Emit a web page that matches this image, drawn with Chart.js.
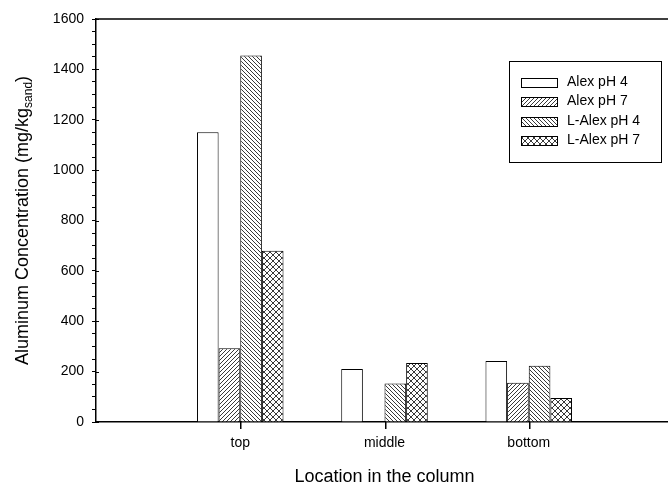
<!DOCTYPE html>
<html>
<head>
<meta charset="utf-8">
<script src="https://cdn.jsdelivr.net/npm/chart.js@4.4.0/dist/chart.umd.min.js"></script>
<style>
  body { margin: 0; overflow: hidden; background: #fff; }
  #wrap { width: 680px; height: 486px; }
</style>
</head>
<body>
<div id="wrap"><canvas id="bar-chart"></canvas></div>
<script>
// data
const locations = ["top", "middle", "bottom"]
const seriesNames = ["Alex pH 4", "Alex pH 7", "L-Alex pH 4", "L-Alex pH 7"]
const alexPH4 = [1150, 210, 242]
const alexPH7 = [293, null, 156]
const lAlexPH4 = [1455, 153, 223]
const lAlexPH7 = [680, 234, 95]
const yMin = 0
const yMax = 1600
const yMajorStep = 200
const yMinorStep = 50

const FONT = "'Liberation Sans', Arial, sans-serif"

// hatch fills
function makePattern(kind) {
  const s = kind === "cross" ? 6 : 4
  const c = document.createElement("canvas")
  c.width = s
  c.height = s
  const p = c.getContext("2d")
  p.fillStyle = "#fff"
  p.fillRect(0, 0, s, s)
  p.strokeStyle = "#222"
  p.lineWidth = 0.9
  p.beginPath()
  for (let k = -s; k <= s; k += s) {
    if (kind === "fwd" || kind === "cross") {
      p.moveTo(k, s)
      p.lineTo(k + s, 0)
    }
    if (kind === "back" || kind === "cross") {
      p.moveTo(k, 0)
      p.lineTo(k + s, s)
    }
  }
  p.stroke()
  return p.createPattern(c, "repeat")
}

const fills = ["#fff", makePattern("fwd"), makePattern("back"), makePattern("cross")]
const seriesData = [alexPH4, alexPH7, lAlexPH4, lAlexPH7]

// empty slot on each side, like the original axis
const labels = ["", ...locations, ""]
const pad = (arr) => [null, ...arr, null]

// frame, inner major ticks, category ticks, y title with subscript, legend
const extras = {
  id: "extras",
  afterDraw(chart) {
    const ctx = chart.ctx
    const a = chart.chartArea
    const ys = chart.scales.y
    ctx.save()
    ctx.strokeStyle = "#000"
    ctx.lineWidth = 1.5
    ctx.beginPath()
    ctx.moveTo(a.left, a.top)
    ctx.lineTo(a.right, a.top)
    ctx.lineTo(a.right, a.bottom)
    ctx.stroke()

    ctx.fillStyle = "#000"
    for (let v = yMin; v <= yMax; v += yMajorStep) {
      const py = Math.round(ys.getPixelForValue(v))
      ctx.fillRect(a.left, py, 3, 1)
    }
    // category ticks at the centre of each bar group
    const first = chart.getDatasetMeta(0).data
    const last = chart.getDatasetMeta(chart.data.datasets.length - 1).data
    const axisY = Math.round(ys.getPixelForValue(yMin))
    locations.forEach((name, i) => {
      const px = Math.round((first[i + 1].x + last[i + 1].x) / 2)
      ctx.fillRect(px, axisY, 1.5, 7)
    })

    // y axis title
    ctx.textBaseline = "alphabetic"
    const main = "Aluminum Concentration (mg/kg"
    const sub = "sand"
    const end = ")"
    ctx.font = "18px " + FONT
    const w1 = ctx.measureText(main).width
    const w3 = ctx.measureText(end).width
    ctx.font = "12px " + FONT
    const w2 = ctx.measureText(sub).width
    const total = w1 + w2 + w3
    ctx.translate(28, (a.top + a.bottom) / 2)
    ctx.rotate(-Math.PI / 2)
    let tx = -total / 2
    ctx.font = "18px " + FONT
    ctx.fillText(main, tx, 0)
    tx += w1
    ctx.font = "12px " + FONT
    ctx.fillText(sub, tx, 4)
    tx += w2
    ctx.font = "18px " + FONT
    ctx.fillText(end, tx, 0)
    ctx.restore()

    // legend
    ctx.save()
    const lx = 509, ly = 61, lw = 152, lh = 101
    ctx.strokeStyle = "#000"
    ctx.lineWidth = 1
    ctx.fillStyle = "#fff"
    ctx.fillRect(lx, ly, lw, lh)
    ctx.strokeRect(lx + 0.5, ly + 0.5, lw, lh)
    ctx.font = "14px " + FONT
    ctx.textBaseline = "middle"
    chart.data.datasets.forEach((ds, i) => {
      const cy = 82 + i * 19.5
      ctx.fillStyle = ds.backgroundColor
      ctx.fillRect(521, Math.round(cy - 4.5), 36, 9)
      ctx.strokeRect(521.5, Math.round(cy - 4.5) + 0.5, 36, 9)
      ctx.fillStyle = "#000"
      ctx.fillText(ds.label, 567, cy)
    })
    ctx.restore()
  },
}

let ctxBar = document.getElementById("bar-chart").getContext("2d")
let barChart = new Chart(ctxBar, {
  type: "bar",
  data: {
    labels: labels,
    datasets: seriesNames.map((name, i) => ({
      label: name,
      data: pad(seriesData[i]),
      backgroundColor: fills[i],
      borderColor: "#000",
      borderWidth: 1,
      categoryPercentage: 0.6,
      barPercentage: 1,
    })),
  },
  options: {
    responsive: true,
    maintainAspectRatio: false,
    animation: false,
    layout: { padding: { top: 19, right: 7, left: 0, bottom: 0 } },
    plugins: {
      legend: { display: false },
      tooltip: { enabled: false },
    },
    scales: {
      x: {
        type: "category",
        offset: false,
        afterFit: (scale) => { scale.height = 64 },
        grid: {
          offset: false,
          drawOnChartArea: false,
          drawTicks: true,
          tickLength: 6,
          tickColor: "rgba(0,0,0,0)",
        },
        border: { display: true, color: "#000", width: 1.5 },
        ticks: {
          color: "#000",
          font: { family: FONT, size: 14 },
          padding: 7,
          maxRotation: 0,
          autoSkip: false,
        },
        title: {
          display: true,
          text: "Location in the column",
          color: "#000",
          font: { family: FONT, size: 18, lineHeight: 1 },
          padding: { top: 0, bottom: 0 },
        },
      },
      y: {
        min: yMin,
        max: yMax,
        afterFit: (scale) => { scale.width = 96 },
        grid: {
          drawOnChartArea: false,
          drawTicks: true,
          tickLength: 4,
          tickColor: "#000",
        },
        border: { display: true, color: "#000", width: 1.5 },
        ticks: {
          stepSize: yMinorStep,
          autoSkip: false,
          color: "#000",
          font: { family: FONT, size: 14 },
          padding: 8,
          callback: (v) => (v % yMajorStep === 0 ? v : ""),
        },
      },
    },
  },
  plugins: [extras],
})
</script>
</body>
</html>
